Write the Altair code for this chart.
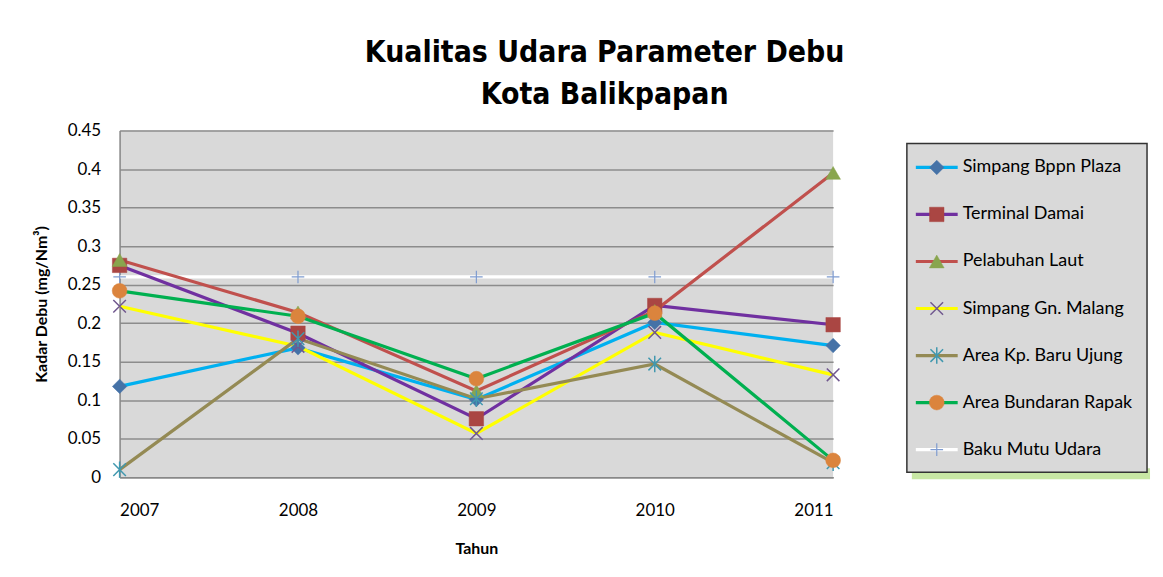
import altair as alt
import pandas as pd

# ---------------- data ----------------
years = [2007, 2008, 2009, 2010, 2011]
series_names = [
    "Simpang Bppn Plaza",
    "Terminal Damai",
    "Pelabuhan Laut",
    "Simpang Gn. Malang",
    "Area Kp. Baru Ujung",
    "Area Bundaran Rapak",
    "Baku Mutu Udara",
]
simpang_bppn_plaza = [0.118, 0.168, 0.101, 0.201, 0.171]
terminal_damai = [0.275, 0.187, 0.076, 0.223, 0.198]
pelabuhan_laut = [0.282, 0.214, 0.112, 0.216, 0.395]
simpang_gn_malang = [0.222, 0.170, 0.057, 0.188, 0.133]
area_kp_baru_ujung = [0.010, 0.180, 0.102, 0.147, 0.019]
area_bundaran_rapak = [0.242, 0.209, 0.128, 0.213, 0.022]
baku_mutu_udara = [0.26, 0.26, 0.26, 0.26, 0.26]
y_ticks = [0, 0.05, 0.1, 0.15, 0.2, 0.25, 0.3, 0.35, 0.4, 0.45]

values = [simpang_bppn_plaza, terminal_damai, pelabuhan_laut, simpang_gn_malang,
          area_kp_baru_ujung, area_bundaran_rapak, baku_mutu_udara]

# ---------------- styles ----------------
X_PATH = "M-1,-1L1,1M-1,1L1,-1"
AST_PATH = "M-1,-1L1,1M-1,1L1,-1M0,-1.3L0,1.3"
PLUS_PATH = "M-1,0L1,0M0,-1L0,1"

styles = [
    dict(line="#00B0F0", mark="#4572A7", shape="diamond", filled=True, size=210, sw=0),
    dict(line="#7030A0", mark="#AA4643", shape="square", filled=True, size=210, sw=0),
    dict(line="#C0504D", mark="#89A54E", shape="triangle-up", filled=True, size=220, sw=0),
    dict(line="#FFFF00", mark="#71588F", shape=X_PATH, filled=False, size=160, sw=1.5),
    dict(line="#948A54", mark="#4198AF", shape=AST_PATH, filled=False, size=160, sw=1.5),
    dict(line="#00B050", mark="#DB843D", shape="circle", filled=True, size=220, sw=0),
    dict(line="#FFFFFF", mark="#7F9CD0", shape=PLUS_PATH, filled=False, size=160, sw=1.2),
]
draw_order = [6, 0, 1, 2, 3, 4, 5]

FONT = "Lato"

x_enc = alt.X(
    "year:Q",
    scale=alt.Scale(domain=[2007, 2011], nice=False, zero=False),
    axis=alt.Axis(values=years, format="d", title="Tahun", grid=False, ticks=False,
                  domainColor="#888888", domainWidth=1.5, labelPadding=25,
                  labelFontSize=17, labelFont=FONT, labelColor="#000000",
                  titleFont=FONT, titleFontSize=16, titleFontWeight="bold",
                  titlePadding=22, titleColor="#000000"),
)
y_enc = alt.Y(
    "value:Q",
    scale=alt.Scale(domain=[0, 0.45], nice=False),
    axis=alt.Axis(values=y_ticks, format=".2~f", title="Kadar Debu (mg/Nm³)",
                  grid=True, gridColor="#8C8C8C", gridWidth=1.5, ticks=False,
                  domainColor="#888888", domainWidth=1.5, labelPadding=19,
                  labelFontSize=17, labelFont=FONT, labelColor="#000000",
                  titleFont=FONT, titleFontSize=16, titleFontWeight="bold",
                  titlePadding=18, titleColor="#000000"),
)

layers = []
for i in draw_order:
    st = styles[i]
    df = pd.DataFrame({"year": years, "value": values[i], "series": series_names[i]})
    layers.append(alt.Chart(df).mark_line(color=st["line"], strokeWidth=3.2).encode(x=x_enc, y=y_enc))
for i in draw_order:
    st = styles[i]
    df = pd.DataFrame({"year": years, "value": values[i], "series": series_names[i]})
    base = alt.Chart(df)
    if st["filled"]:
        pm = base.mark_point(shape=st["shape"], filled=True, fill=st["mark"],
                             stroke=st["mark"], strokeWidth=0.5, size=st["size"], opacity=1)
    else:
        pm = base.mark_point(shape=st["shape"], filled=False, stroke=st["mark"],
                             strokeWidth=st["sw"], size=st["size"], opacity=1)
    layers.append(pm.encode(x=x_enc, y=y_enc))

main = alt.layer(*layers).properties(
    width=716, height=348,
    view=alt.ViewConfig(fill="#D9D9D9", stroke=None),
)

# ---------------- legend panel ----------------
LEG_W, LEG_H, LEG_TOP = 241, 343, 13
leg_df = pd.DataFrame({"name": series_names, "idx": list(range(len(series_names)))})
leg_y = alt.Y("idx:Q", scale=alt.Scale(domain=[-37 / 47.2, (LEG_H - 37) / 47.2],
                                        reverse=True, nice=False, zero=False), axis=None)
box_df = pd.DataFrame({"a": [0]})
leg_layers = [
    alt.Chart(box_df).mark_rect(fill="#9BD35A", opacity=0.55).encode(
        x=alt.value(5), x2=alt.value(LEG_W + 3),
        y=alt.value(LEG_H - 4), y2=alt.value(LEG_H + 7)),
    alt.Chart(box_df).mark_rect(fill="#D9D9D9", stroke="#333333", strokeWidth=1.5).encode(
        x=alt.value(0), x2=alt.value(LEG_W), y=alt.value(LEG_TOP), y2=alt.value(LEG_H)),
]
for i, name in enumerate(series_names):
    st = styles[i]
    d = leg_df[leg_df["idx"] == i]
    c = alt.Chart(d)
    leg_layers.append(c.mark_rule(color=st["line"], strokeWidth=3.2).encode(
        x=alt.value(9), x2=alt.value(51), y=leg_y))
    if st["filled"]:
        pm = c.mark_point(shape=st["shape"], filled=True, fill=st["mark"], stroke=st["mark"],
                          strokeWidth=0.5, size=st["size"], opacity=1)
    else:
        pm = c.mark_point(shape=st["shape"], filled=False, stroke=st["mark"],
                          strokeWidth=st["sw"], size=st["size"], opacity=1)
    leg_layers.append(pm.encode(x=alt.value(30), y=leg_y))
leg_layers.append(alt.Chart(leg_df).mark_text(align="left", baseline="middle", font=FONT,
                                               fontSize=18, color="#000000").encode(
    x=alt.value(56), y=leg_y, text="name:N"))

legend = alt.layer(*leg_layers).properties(
    width=LEG_W, height=LEG_H, view=alt.ViewConfig(stroke=None, fill=None))

chart = alt.hconcat(main, legend, spacing=74, bounds="flush").properties(
    title=alt.TitleParams(
        text=["Kualitas Udara Parameter Debu", "Kota Balikpapan"],
        font="Liberation Sans Narrow, DejaVu Sans Condensed, Lato",
        fontSize=30, fontWeight="bold", lineHeight=42, color="#000000",
        anchor="middle", dx=13, offset=12),
    padding={"left": 25, "top": 29, "right": 5, "bottom": 5},
    background="#FFFFFF",
).configure_view(stroke=None)

chart.save("out.html", embed_options={"renderer": "svg", "actions": False})
